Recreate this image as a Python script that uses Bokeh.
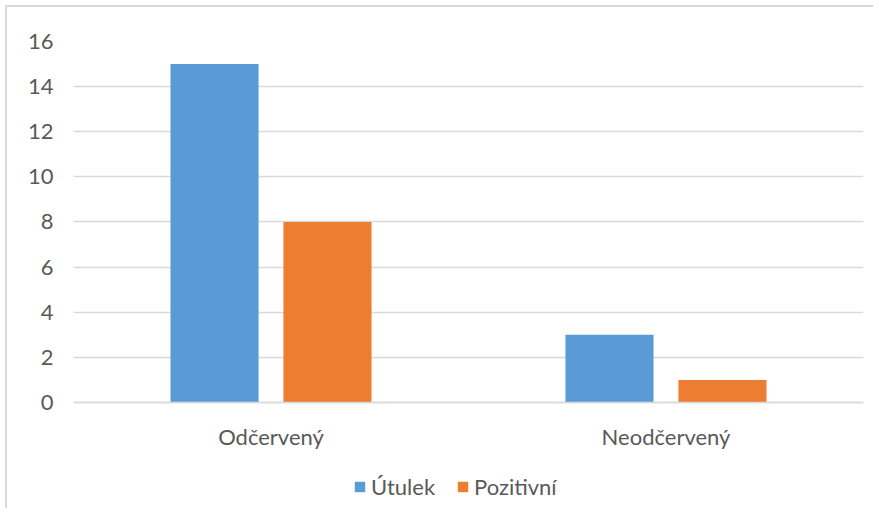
from bokeh.plotting import figure
from bokeh.models import ColumnDataSource, FactorRange, Range1d, Legend, LegendItem, FixedTicker
from bokeh.transform import dodge
from bokeh.embed import file_html
from bokeh.resources import INLINE

categories = ["Odčervený", "Neodčervený"]
utulek = [15, 3]
pozitivni = [8, 1]
series_names = ["Útulek", "Pozitivní"]
y_ticks = [0, 2, 4, 6, 8, 10, 12, 14, 16]

FONT = "Lato"
TXT = "#595959"
GRID = "#d9d9d9"
FS = "22px"

source = ColumnDataSource(dict(cat=categories, u=utulek, p=pozitivni))

p = figure(x_range=FactorRange(factors=categories, range_padding=0),
           y_range=Range1d(-4.7, 16),
           frame_width=790, frame_height=467,
           min_border_left=66, min_border_right=10, min_border_top=34, min_border_bottom=0,
           output_backend="svg", toolbar_location=None)
p.styles = {"border-left": "2px solid #d9d9d9", "border-top": "2px solid #d9d9d9",
            "position": "relative", "left": "5px", "top": "5px"}
p.outline_line_color = None
p.background_fill_color = "white"

r1 = p.vbar(x=dodge("cat", -0.143, range=p.x_range), top="u", bottom=0, width=0.223, source=source,
            fill_color="#5B9BD5", line_color=None)
r2 = p.vbar(x=dodge("cat", 0.143, range=p.x_range), top="p", bottom=0, width=0.223, source=source,
            fill_color="#ED7D31", line_color=None)

p.xgrid.grid_line_color = None
p.ygrid.grid_line_color = GRID
p.ygrid.grid_line_width = 1.5
p.yaxis.ticker = FixedTicker(ticks=y_ticks)

p.yaxis.axis_line_color = None
p.yaxis.major_tick_line_color = None
p.yaxis.minor_tick_line_color = None
p.yaxis.major_label_text_font = FONT
p.yaxis.major_label_text_font_size = FS
p.yaxis.major_label_text_color = TXT
p.yaxis.major_label_standoff = 14

p.xaxis.fixed_location = 0
p.xaxis.axis_line_color = GRID
p.xaxis.axis_line_width = 1.5
p.xaxis.major_tick_line_color = None
p.xaxis.major_tick_out = 0
p.xaxis.major_label_text_font = FONT
p.xaxis.major_label_text_font_size = FS
p.xaxis.major_label_text_color = TXT
p.xaxis.major_label_standoff = 21

legend = Legend(items=[LegendItem(label=series_names[0], renderers=[r1]),
                       LegendItem(label=series_names[1], renderers=[r2])],
                orientation="horizontal", location=(280, 8),
                glyph_width=13, glyph_height=13, label_standoff=5, spacing=21,
                padding=0, margin=0, border_line_color=None, background_fill_alpha=0,
                label_text_font=FONT, label_text_font_size=FS, label_text_color=TXT)
p.add_layout(legend, "center")

open("out.html", "w").write(file_html(p, INLINE))
